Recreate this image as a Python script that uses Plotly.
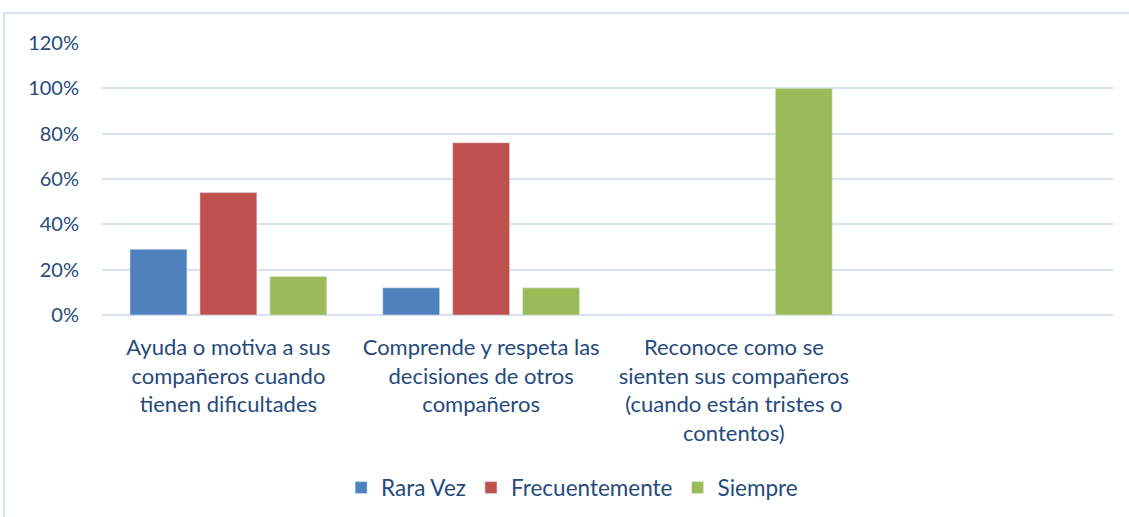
"""Habilidades sociales: frecuencia por conducta observada."""
import plotly.graph_objects as go

categorias = [
    'Ayuda o motiva a sus<br>compañeros cuando<br>tienen dificultades',
    'Comprende y respeta las<br>decisiones de otros<br>compañeros',
    'Reconoce como se<br>sienten sus compañeros<br>(cuando están tristes o<br>contentos)',
    ' ',
]
rara_vez = [0.29, 0.12, 0, None]
frecuentemente = [0.54, 0.76, 0, None]
siempre = [0.17, 0.12, 1.00, None]

text_color = '#254a7c'
grid_color = '#d6e2f2'

fig = go.Figure()
fig.add_trace(go.Bar(x=categorias, y=rara_vez, name='Rara Vez',
                     marker_color='#4f81bd'))
fig.add_trace(go.Bar(x=categorias, y=frecuentemente, name='Frecuentemente',
                     marker_color='#c0504d'))
fig.add_trace(go.Bar(x=categorias, y=siempre, name='Siempre',
                     marker_color='#9bbb59'))

fig.update_layout(
    width=1129, height=517,
    margin=dict(l=102, r=16, t=43, b=202, autoexpand=False),
    paper_bgcolor='white', plot_bgcolor='white',
    font=dict(family='Lato', size=20, color=text_color),
    barmode='group', bargap=0.17, bargroupgap=0.186,
    showlegend=True,
    legend=dict(orientation='h', x=0.465, xanchor='center',
                y=-0.636, yanchor='middle', font=dict(size=22.5),
                itemwidth=30, traceorder='normal'),
)
fig.update_yaxes(range=[0, 1.2], dtick=0.2, tickformat='.0%',
                 showgrid=True, gridcolor=grid_color, gridwidth=2,
                 zeroline=True, zerolinecolor=grid_color, zerolinewidth=2,
                 showline=False, ticklabelstandoff=22, automargin=False,
                 tickfont=dict(size=20))
fig.update_xaxes(showgrid=False, showline=False, ticks='',
                 ticklabelstandoff=17, tickangle=0, automargin=False,
                 tickfont=dict(size=22))

# light border round the whole chart area
fig.add_shape(type='rect', xref='paper', yref='paper',
              x0=-0.097, x1=1.2, y0=-1.0, y1=1.11,
              line=dict(color=grid_color, width=2), layer='below')

# drop the default page margin so the figure sits at the window corner
fig.write_html('out.html', config={'displayModeBar': False},
               post_script="document.body.style.margin='0';")
